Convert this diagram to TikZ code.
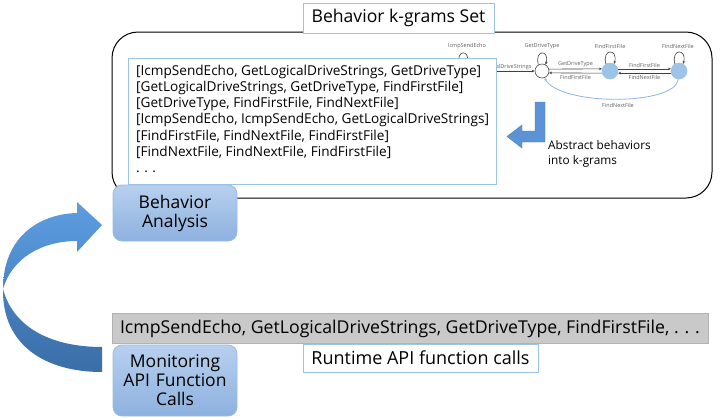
\documentclass[tikz,border=0pt]{standalone}
\usepackage{fontspec}
\setmainfont{Open Sans}
\usetikzlibrary{arrows.meta,shapes.geometric}

\definecolor{boxline}{HTML}{9DC3E6}
\definecolor{pilltop}{HTML}{B8D0EE}
\definecolor{pillbot}{HTML}{8DB1DF}
\definecolor{pilledge}{HTML}{98BBE4}
\definecolor{barfill}{HTML}{C9C9C9}
\definecolor{baredge}{HTML}{B2B2B2}
\definecolor{stateblue}{HTML}{9DC3E6}
\definecolor{arcblue}{HTML}{8DB4E0}
\definecolor{tinygray}{HTML}{606060}
\definecolor{bendblue}{HTML}{5B93D6}
\definecolor{ribbonA}{HTML}{5D9EE0}
\definecolor{ribbonB}{HTML}{4A86C8}
\definecolor{ribbonC}{HTML}{4880BE}
\definecolor{ribbonD}{HTML}{3A6EA8}

\tikzset{
  framebox/.style={draw=boxline, line width=1pt, fill=white, inner sep=0pt},
  pill/.style={draw=pilledge, line width=0.8pt, rounded corners=9pt,
    top color=pilltop, bottom color=pillbot, inner sep=0pt, align=center,
    text width=124pt, font=\fontsize{17.5}{21}\selectfont},
  state/.style={circle, draw=black!70, line width=0.6pt, minimum size=14pt, inner sep=0pt},
  fullstate/.style={state, draw=stateblue, fill=stateblue, minimum size=16pt},
  tiny/.style={font=\fontsize{5.5}{6}\selectfont, text=tinygray, inner sep=0.5pt},
  trans/.style={draw=black!75, line width=0.6pt, -{Stealth[length=3pt,width=2.6pt]}},
  arctrans/.style={draw=arcblue, line width=0.8pt, -{Stealth[length=3pt,width=2.6pt]}},
}

\begin{document}
\begin{tikzpicture}[x=1pt,y=-1pt]
\useasboundingbox (0,0) rectangle (721,418);

% outer frame holding the k-gram set
\draw[line width=1pt, rounded corners=26pt] (112,32) rectangle (712,198);

% state graph of the API calls
\node[state, fill=white] (ise) at (463,71) {};
\node[state, fill=white] (gdt) at (542,71) {};
\node[fullstate] (fff) at (610,71) {};
\node[fullstate] (fnf) at (679,71) {};

\foreach \s in {ise,gdt,fff,fnf}{
  \draw[trans] (\s.120) .. controls +(105:16pt) and +(75:16pt) .. (\s.60);
}
\node[tiny] (lise) at (467,46) {IcmpSendEcho};
\node[tiny] (lgdt) at (542,46) {GetDriveType};
\node[tiny] (lfff) at (610,46) {FindFirstFile};
\node[tiny] (lfnf) at (678,46) {FindNextFile};

% the first label is partly covered by the list box, so only its right part shows
\begin{scope}
  \clip (497,55) rectangle (540,80);
  \draw[trans] (ise.east) -- (gdt.west) node[tiny, midway, above=0.5pt] (ega) {GetLogicalDriveStrings};
\end{scope}
\draw[trans] (gdt.15) -- (fff.165) node[tiny, midway, above=1pt] (egb) {GetDriveType};
\draw[trans] (fff.195) -- (gdt.345) node[tiny, midway, below=1.5pt] (egc) {FindFirstFile};
\draw[trans] (fff.15) -- (fnf.165) node[tiny, midway, above=1pt] (egd) {FindFirstFile};
\draw[trans] (fnf.195) -- (fff.345) node[tiny, midway, below=1.5pt] (ege) {FindNextFile};
\draw[arctrans] (fnf.265) .. controls (675,106) and (560,106) .. (gdt.290);
\node[tiny] (egf) at (618,105) {FindNextFile};

% list of behavior 3-grams
\node[framebox, minimum width=368pt, minimum height=126pt] (list) at (312,121) {};
\node[anchor=north west, inner sep=0pt, align=left,
      font=\fontsize{13.6}{16.3}\selectfont] (grams) at (136,64.5) {%
{[IcmpSendEcho, GetLogicalDriveStrings, GetDriveType]}\\
{[GetLogicalDriveStrings, GetDriveType, FindFirstFile]}\\
{[GetDriveType, FindFirstFile, FindNextFile]}\\
{[IcmpSendEcho, IcmpSendEcho, GetLogicalDriveStrings]}\\
{[FindFirstFile, FindNextFile, FindFirstFile]}\\
{[FindNextFile, FindNextFile, FindFirstFile]}\\
.\,\,.\,\,.};

% title of the frame
\node[framebox, minimum width=191pt, minimum height=30pt,
      font=\fontsize{17.6}{20}\selectfont] (title) at (398.5,18) {Behavior k-grams Set};

% bent arrow pointing at the list
\fill[bendblue, draw=bendblue!85!black, line width=0.4pt]
  (545,102) -- (545,142) -- (522,142) -- (522,148) -- (507,136.5)
  -- (522,125) -- (522,131) -- (535,131) -- (535,102) -- cycle;
\node[anchor=north west, inner sep=0pt, align=left,
      font=\fontsize{11.8}{15}\selectfont] (abs) at (548,140) {Abstract behaviors\\into k-grams};

% analysis stages
\node[pill, minimum height=56pt] (ana) at (175,213) {Behavior\\[-2pt]Analysis};

\node[draw=baredge, fill=barfill, line width=0.6pt, minimum width=596pt,
      minimum height=30pt, inner sep=0pt, font=\fontsize{17.7}{20}\selectfont] (calls) at (410,328.5)
  {IcmpSendEcho, GetLogicalDriveStrings, GetDriveType, FindFirstFile, .\,\,.\,\,.};

\node[pill, minimum height=71pt] (mon) at (175,380.5) {Monitoring\\[-2pt]API Function\\[-2pt]Calls};

\node[framebox, minimum width=235pt, minimum height=28pt,
      font=\fontsize{18}{20}\selectfont] (rt) at (420.5,358) {Runtime API function calls};

% curved ribbon arrow from monitoring up to analysis
\coordinate (pinch) at (3,289);
\shade[top color=ribbonC, bottom color=ribbonD]
  (pinch) .. controls (2,345) and (45,372) .. (102,372)
  -- (102,347) .. controls (55,347) and (14,330) .. (pinch) -- cycle;
\shade[top color=ribbonA, bottom color=ribbonB]
  (pinch) .. controls (3,238) and (38,214) .. (77,213)
  -- (77,202) -- (102,225) -- (77,252) -- (77,241)
  .. controls (42,241) and (12,258) .. (pinch) -- cycle;
\end{tikzpicture}
\end{document}
